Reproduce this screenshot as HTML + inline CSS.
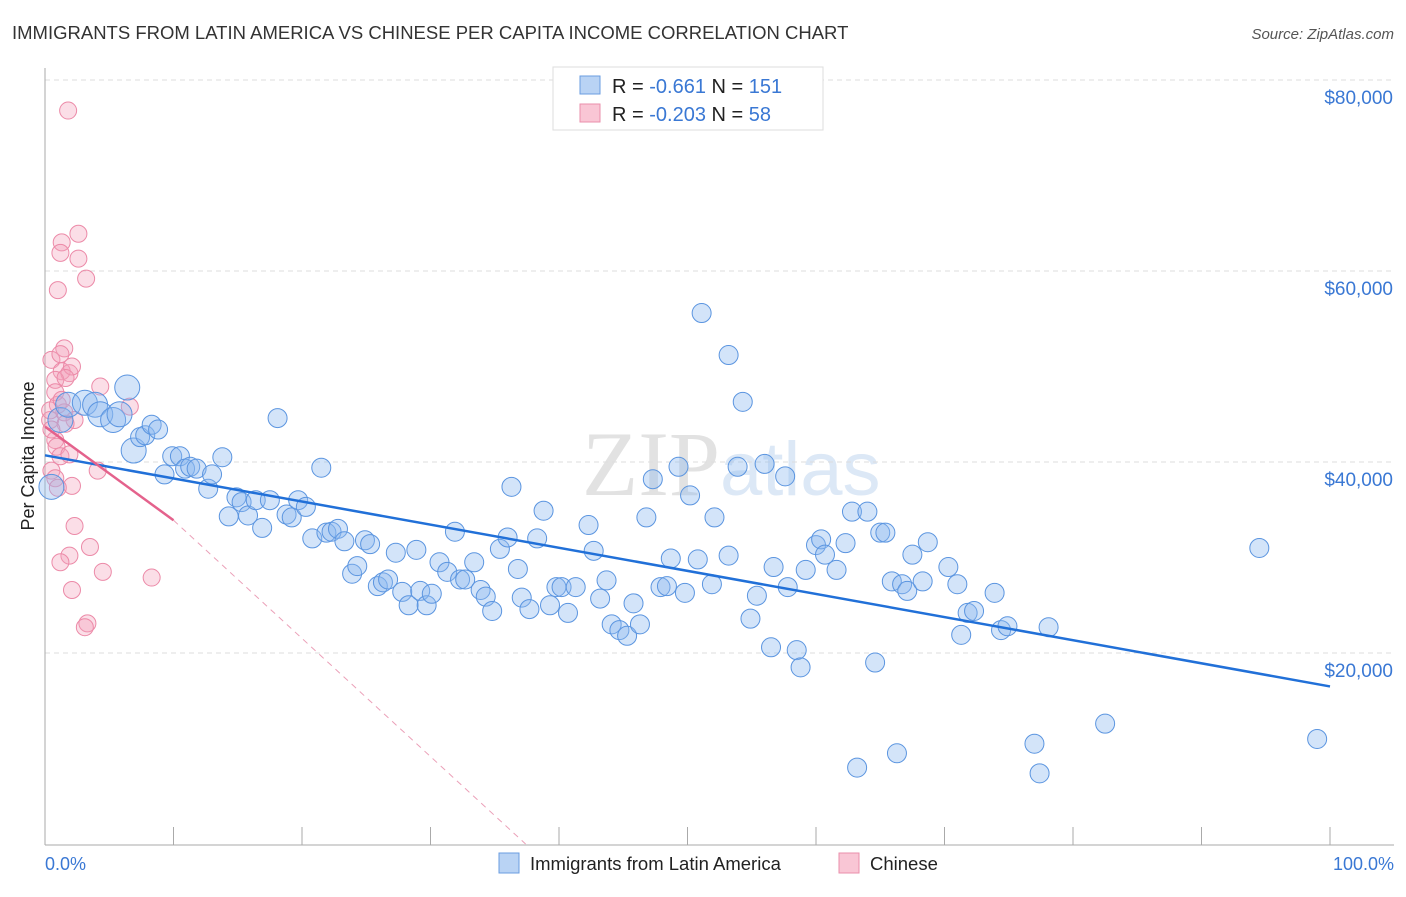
<!DOCTYPE html>
<html><head><meta charset="utf-8"><style>
body{margin:0;background:#fff;font-family:"Liberation Sans",sans-serif}
</style></head><body>
<svg id="c" width="1406" height="892" viewBox="0 0 1406 892" xmlns="http://www.w3.org/2000/svg">
<text x="12" y="39" font-size="18.5" fill="#333">IMMIGRANTS FROM LATIN AMERICA VS CHINESE PER CAPITA INCOME CORRELATION CHART</text>
<text x="1394" y="39" font-size="15" fill="#555" font-style="italic" text-anchor="end">Source: ZipAtlas.com</text>
<text x="720" y="495" font-size="92" fill="#e2e2e2" text-anchor="end" font-family="Liberation Serif,serif">ZIP</text>
<text x="720" y="495" font-size="76" fill="#dce8f6">atlas</text>
<g id="grid"></g><g id="axes"></g><g id="pink"></g><g id="blue"></g><g id="trend"></g>
<text transform="translate(34,456) rotate(-90)" font-size="18" fill="#222" text-anchor="middle">Per Capita Income</text>
<text x="45" y="870" font-size="18" fill="#3a78d4">0.0%</text>
<text x="1394" y="870" font-size="18" fill="#3a78d4" text-anchor="end">100.0%</text>
<g>
<rect x="553" y="67" width="270" height="63" fill="#fff" stroke="#ddd"/>
<rect x="580" y="76" width="20" height="18" fill="#b9d3f4" stroke="#6a9de0"/>
<rect x="580" y="104" width="20" height="18" fill="#f9c6d5" stroke="#ea8fab"/>
<text x="612" y="93" font-size="20" fill="#222">R = <tspan fill="#3a78d4"> -0.661</tspan>   N = <tspan fill="#3a78d4">151</tspan></text>
<text x="612" y="121" font-size="20" fill="#222">R = <tspan fill="#3a78d4">-0.203</tspan>   N = <tspan fill="#3a78d4"> 58</tspan></text>
</g>
<g>
<rect x="499" y="853" width="20" height="20" fill="#b9d3f4" stroke="#6a9de0"/>
<text x="530" y="870" font-size="18.5" fill="#222">Immigrants from Latin America</text>
<rect x="839" y="853" width="20" height="20" fill="#f9c6d5" stroke="#ea8fab"/>
<text x="870" y="870" font-size="18.5" fill="#222">Chinese</text>
</g>
</svg>
<script>
const yTicks=[20000,40000,60000,80000];
const yTickLabels=["$20,000","$40,000","$60,000","$80,000"];
const xTicks=[0,10,20,30,40,50,60,70,80,90,100];
// blue: [x %, income $k]
const blueX=[0.5,1.2,1.8,3.1,3.9,4.3,5.3,5.8,6.4,6.9,7.4,7.8,8.3,8.8,9.3,9.9,10.5,10.9,11.3,11.8,12.7,13.0,13.8,14.3,14.9,15.3,15.8,16.4,16.9,17.5,18.1,18.8,19.2,19.7,20.3,20.8,21.5,21.9,22.3,22.8,23.3,23.9,24.3,24.9,25.3,25.9,26.3,26.7,27.3,27.8,28.3,28.9,29.2,29.7,30.1,30.7,31.3,31.9,32.3,32.7,33.4,33.9,34.3,34.8,35.4,36.0,36.3,36.8,37.1,37.7,38.3,38.8,39.3,39.8,40.2,40.7,41.3,42.3,42.7,43.2,43.7,44.1,44.7,45.3,45.8,46.3,46.8,47.3,47.9,48.7,49.3,48.4,49.8,50.2,50.8,51.1,51.9,52.1,53.2,53.2,53.9,54.3,54.9,55.4,56.0,56.5,56.7,57.6,57.8,58.5,58.8,59.2,60.0,60.4,60.7,61.6,62.3,62.8,63.2,64.0,64.6,65.0,65.4,65.9,66.3,66.7,67.1,67.5,68.3,68.7,70.3,71.0,71.3,71.8,72.3,73.9,74.4,74.9,77.0,77.4,78.1,82.5,94.5,99.0];
const blueY=[37.4,44.4,46.0,46.2,46.0,45.0,44.4,45.0,47.8,41.2,42.6,42.8,43.9,43.4,38.7,40.6,40.6,39.3,39.5,39.3,37.2,38.7,40.5,34.3,36.3,35.8,34.4,36.0,33.1,36.0,44.6,34.5,34.2,36.0,35.3,32.0,39.4,32.6,32.7,33.0,31.7,28.3,29.1,31.8,31.4,27.0,27.4,27.7,30.5,26.4,25.0,30.8,26.5,25.0,26.2,29.5,28.5,32.7,27.7,27.7,29.5,26.6,25.9,24.4,30.9,32.1,37.4,28.8,25.8,24.6,32.0,34.9,25.0,26.9,26.9,24.2,26.9,33.4,30.7,25.7,27.6,23.0,22.4,21.8,25.2,23.0,34.2,38.2,26.9,29.9,39.5,27.0,26.3,36.5,29.8,55.6,27.2,34.2,51.2,30.2,39.5,46.3,23.6,26.0,39.8,20.6,29.0,38.5,26.9,20.3,18.5,28.7,31.3,31.9,30.3,28.7,31.5,34.8,8.0,34.8,19.0,32.6,32.6,27.5,9.5,27.2,26.5,30.3,27.5,31.6,29.0,27.2,21.9,24.2,24.4,26.3,22.4,22.8,10.5,7.4,22.7,12.6,31.0,11.0,13.9];
const pinkX=[1.8,1.3,2.6,1.2,2.6,3.2,1.0,1.5,0.5,1.2,1.3,1.9,2.1,4.3,0.8,1.6,6.6,1.0,1.5,2.3,0.4,0.8,0.9,1.2,1.9,0.5,0.8,1.0,4.1,2.1,2.3,1.9,1.2,3.5,2.1,4.5,8.3,3.3,3.1,0.4,0.8,1.3,1.6,0.5];
const pinkY=[76.8,63.0,63.9,61.9,61.3,59.2,58.0,51.9,50.7,51.3,49.5,49.3,50.0,47.9,48.6,48.8,45.8,46.0,45.2,44.4,44.4,42.3,41.6,40.6,40.8,39.1,38.3,37.3,39.1,37.5,33.3,30.2,29.5,31.1,26.6,28.5,27.9,23.1,22.7,45.4,47.3,46.5,44.0,43.4];
// trend endpoints [x%, $k]
const blueTrend=[[0,40.7],[100,16.5]];
const pinkTrendSolid=[[0,43.7],[10,33.9]];
const pinkTrendDash=[[10,33.9],[37.4,0]];

const X=v=>45+v*12.85, Y=v=>844-v/1000*9.55, Yk=v=>844-v*9.55;
const NS="http://www.w3.org/2000/svg";
function mk(t,a,p){const e=document.createElementNS(NS,t);for(const k in a)e.setAttribute(k,a[k]);document.getElementById(p).appendChild(e);return e;}
yTicks.forEach((t,i)=>{
  const l=mk('line',{x1:45,x2:1394,y1:Y(t),y2:Y(t),stroke:'#ddd','stroke-dasharray':'5,4'},'grid');
  
  
  const tx=mk('text',{x:1393,y:Y(t)+24,'font-size':19,fill:'#3a78d4','text-anchor':'end'},'grid');
  tx.textContent=yTickLabels[i];
  
  
});
mk('line',{x1:1394,x2:1394,y1:Y(80000),y2:Y(80000),stroke:'#ddd'},'grid');
const ax=mk('line',{x1:45,x2:45,y1:68,y2:845,stroke:'#aaa'},'axes');


const bx=mk('line',{x1:45,x2:1394,y1:845,y2:845,stroke:'#aaa'},'axes');


xTicks.forEach(t=>{const l=mk('line',{x1:X(t),x2:X(t),y1:827,y2:845,stroke:'#aaa'},'axes');
  
  });
pinkX.forEach((x,i)=>{const c=mk('circle',{cx:X(x),cy:Yk(pinkY[i]),r:8.5,fill:'rgba(244,160,185,0.35)',stroke:'#ec8aa8','stroke-width':1},'pink');
  
  });
blueX.forEach((x,i)=>{const c=mk('circle',{cx:X(x),cy:Yk(blueY[i]),r:(i<10?12.5:9.5),fill:'rgba(140,185,240,0.38)',stroke:'#5b95e0','stroke-width':1},'blue');
  
  });
const bt=mk('line',{x1:X(blueTrend[0][0]),y1:Yk(blueTrend[0][1]),x2:X(blueTrend[1][0]),y2:Yk(blueTrend[1][1]),stroke:'#2170d8','stroke-width':2.5},'trend');


const pt=mk('line',{x1:X(pinkTrendSolid[0][0]),y1:Yk(pinkTrendSolid[0][1]),x2:X(pinkTrendSolid[1][0]),y2:Yk(pinkTrendSolid[1][1]),stroke:'#e4628c','stroke-width':2.5},'trend');


const pd=mk('line',{x1:X(pinkTrendDash[0][0]),y1:Yk(pinkTrendDash[0][1]),x2:X(pinkTrendDash[1][0]),y2:Yk(pinkTrendDash[1][1]),stroke:'#eba0b8','stroke-width':1,'stroke-dasharray':'6,5'},'trend');


</script>
</body></html>
